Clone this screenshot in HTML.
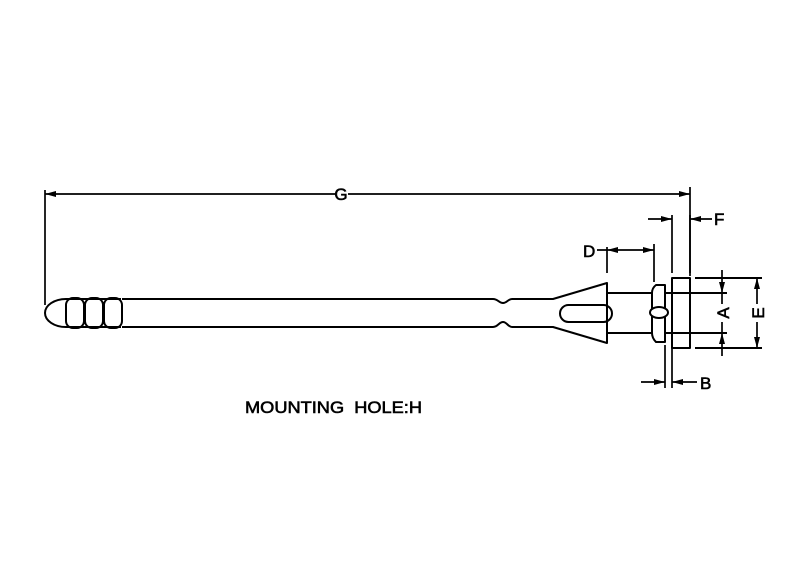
<!DOCTYPE html>
<html><head><meta charset="utf-8"><style>
html,body{margin:0;padding:0;background:#fff;}
svg{display:block}
text{font-family:"Liberation Sans",sans-serif;fill:#000}
</style></head><body>
<svg width="800" height="576" viewBox="0 0 800 576" xmlns="http://www.w3.org/2000/svg">
<g fill="none" stroke="#000" stroke-width="2" stroke-linejoin="round">
<!-- knob -->
<path d="M66 299 A21 14 0 0 0 66 327"/>
<path d="M66 299 H121 M66 327 H121"/>
<rect x="66" y="298" width="18" height="30" rx="7"/>
<rect x="85" y="298" width="18" height="30" rx="7"/>
<rect x="104" y="298" width="18" height="30" rx="7"/>
<!-- rod -->
<path d="M122 299 H493 C498 299 499 303 503 303 C507 303 508 299 512 299 H553 L607 283 V343 L553 327 H512 C508 327 507 322 503 322 C499 322 498 327 493 327 H122"/>
<rect x="560" y="305" width="52" height="17" rx="8.5"/>
<!-- shaft -->
<path d="M607 293 H652 M607 333 H652"/>
<path d="M665 285 V342 H656 Q652 338 652 333 V293 Q652 288 656 285 Z"/>
<ellipse cx="659" cy="312.5" rx="9" ry="5.5" fill="#fff"/>
<rect x="672" y="278" width="18" height="70"/>
<path d="M665 293 H727 M665 333 H727"/>
<path d="M695 278 H762 M695 348 H762"/>
</g>
<g stroke="#000" stroke-width="1.7" fill="none">
<path d="M45 190 V305 M690 187 V276 M45 194 H335 M348 194 H690"/>
<path d="M672 215 V273 M690 215 V273 M648 219 H672 M690 219 H712"/>
<path d="M607 247 V273 M654 244 V282 M597 250 H654"/>
<path d="M665 345 V388 M672 345 V388 M641 382 H665 M672 382 H697"/>
<path d="M722 270 V293 M722 333 V356 M722 293 V304 M722 322 V333"/>
<path d="M757 278 V304 M757 322 V348"/>
</g>
<g fill="#000">
<path d="M45 194 l11 -3 v6 z"/><path d="M690 194 l-11 -3 v6 z"/>
<path d="M672 219 l-11 -3 v6 z"/><path d="M690 219 l11 -3 v6 z"/>
<path d="M607 250 l11 -3 v6 z"/><path d="M654 250 l-11 -3 v6 z"/>
<path d="M665 382 l-11 -3 v6 z"/><path d="M672 382 l11 -3 v6 z"/>
<path d="M722 293 l-3 -11 h6 z"/><path d="M722 333 l-3 11 h6 z"/>
<path d="M757 278 l-3 11 h6 z"/><path d="M757 348 l-3 -11 h6 z"/>
</g>
<g font-size="17" stroke="#000" stroke-width="0.6">
<text x="341" y="200" text-anchor="middle">G</text>
<text x="714" y="225">F</text>
<text x="583" y="257">D</text>
<text x="700" y="389">B</text>
<text x="0" y="0" transform="translate(729 313) rotate(-90)" text-anchor="middle">A</text>
<text x="0" y="0" transform="translate(764 313) rotate(-90)" text-anchor="middle">E</text>
<text x="245" y="413" font-size="17" textLength="177" lengthAdjust="spacingAndGlyphs">MOUNTING&#160;&#160;HOLE:H</text>
</g>
</svg>
</body></html>
